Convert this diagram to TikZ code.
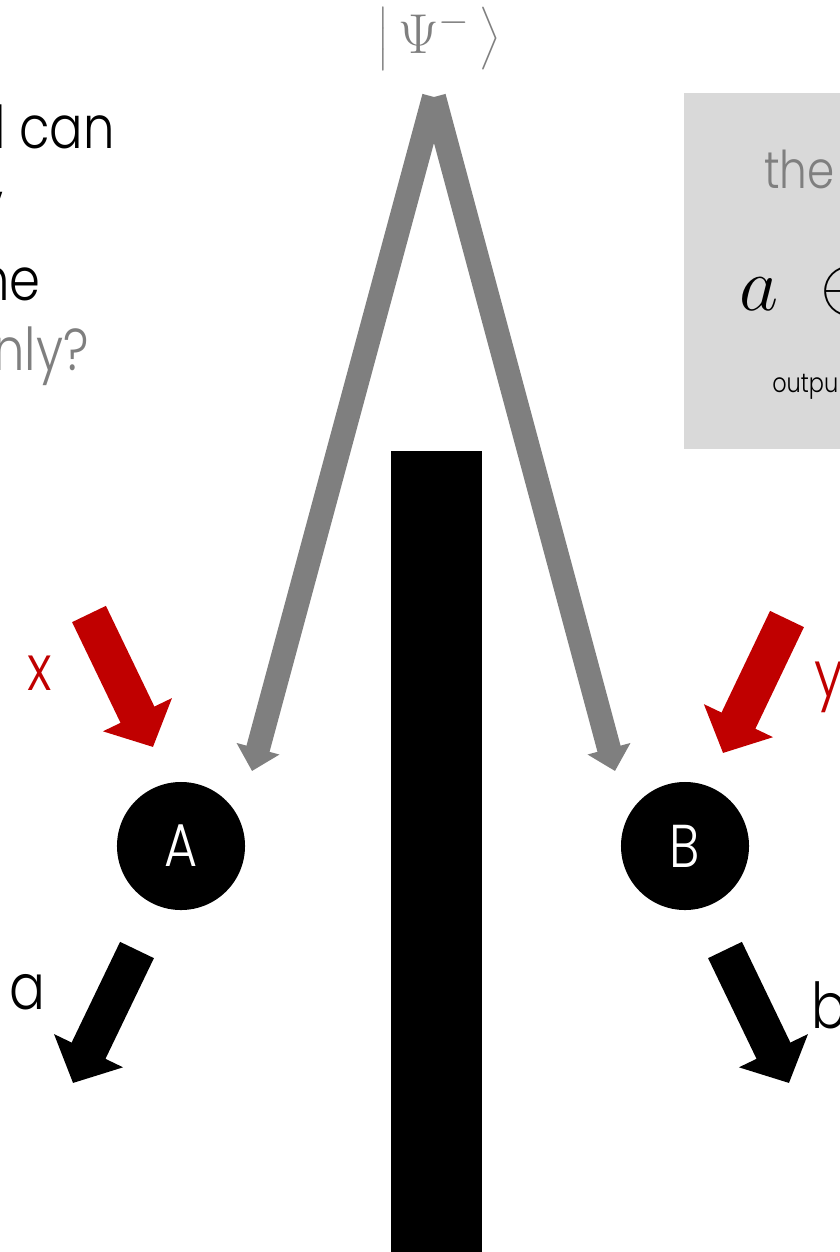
\RequirePackage{fix-cm}
\documentclass[tikz,border=0pt]{standalone}
\usepackage{amsmath}
\usepackage[no-math]{fontspec}
\setmainfont{Poppins}[UprightFont={* Light}, FakeStretch=0.84]
\usepackage{tikz}
\usetikzlibrary{arrows.meta}
\definecolor{alarm}{HTML}{C00000}
\definecolor{mid}{HTML}{7F7F7F}
\definecolor{boxgray}{HTML}{D9D9D9}
\tikzset{
  party/.style  ={circle, minimum size=3.2cm, inner sep=0pt, fill=black, text=white, font=\fontsize{43}{43}\selectfont},
  inarr/.style  ={-{Triangle[width=53pt,length=25.5pt]}, line width=26.7pt, draw=alarm},   % x, y in
  outarr/.style ={-{Triangle[width=53pt,length=25.5pt]}, line width=26.7pt, draw=black},   % a, b out
  epr/.style    ={-{Triangle[width=30.6pt,length=16.4pt]}, line width=17pt, draw=mid},     % shared pair
  lbl/.style    ={inner sep=0pt, font=\fontsize{45}{45}\selectfont},
  body/.style   ={inner sep=0pt, font=\fontsize{42}{42}\selectfont},
}

\begin{document}
\begin{tikzpicture}[x=0.025cm, y=-0.025cm]
  \useasboundingbox (0,0) rectangle (840,1252);
  \clip (0,0) rectangle (840,1252);

  % question, cut at the left edge
  \node[body, anchor=base east] (q1) at (115,148) {l can};
  \node[body, anchor=base east] (q2) at (4,224) {y};
  \node[body, anchor=base east] (q3) at (41,300) {he};
  \node[body, anchor=base east, text=mid] (q4) at (89,370) {nly?};

  % result box, cut at the right edge
  \fill[boxgray] (684,93) rectangle (860,449);
  \node[anchor=base west, inner sep=0pt, text=mid, font=\fontsize{37}{37}\selectfont] (r1) at (764,188) {the};
  \node[anchor=base west, inner sep=0pt, font=\fontsize{54}{54}\selectfont] (r2) at (739,310) {$a\mkern10mu\oplus$};
  \node[anchor=base west, inner sep=0pt, font=\fontsize{19}{19}\selectfont] (r3) at (772,392) {outpu};

  % source
  \node[anchor=base, inner sep=0pt, text=mid, font=\fontsize{40}{40}\selectfont] (psi) at (439,53) {$\bigl|\mkern3mu\Psi^-\mkern3mu\bigr\rangle$};
  \coordinate (src)  at (434,97);
  \coordinate (tipA) at (252,771);
  \coordinate (tipB) at (615,771);
  \draw[epr] (src) -- (tipA);
  \draw[epr] (src) -- (tipB);

  % wall
  \fill (391,451) rectangle (482,1252);

  % parties
  \node[party] (A) at (181,846) {A};
  \node[party] (B) at (685,846) {B};

  % inputs
  \coordinate (xin)  at (89,614);
  \coordinate (xend) at (153,747);
  \coordinate (yin)  at (787,619);
  \coordinate (yend) at (723,753);
  \draw[inarr] (xin) -- (xend);
  \draw[inarr] (yin) -- (yend);
  \node[lbl, text=alarm, anchor=base] (xl) at (40,690) {x};
  \node[lbl, text=alarm, anchor=base west] (yl) at (814,696) {y};

  % outputs
  \coordinate (aout) at (137,950);
  \coordinate (aend) at (73,1083);
  \coordinate (bout) at (725,950);
  \coordinate (bend) at (789,1083);
  \draw[outarr] (aout) -- (aend);
  \draw[outarr] (bout) -- (bend);
  \node[lbl, anchor=base] (al) at (27,1009) {a};
  \node[lbl, anchor=base west] (bl) at (811,1028) {b};
\end{tikzpicture}
\end{document}
